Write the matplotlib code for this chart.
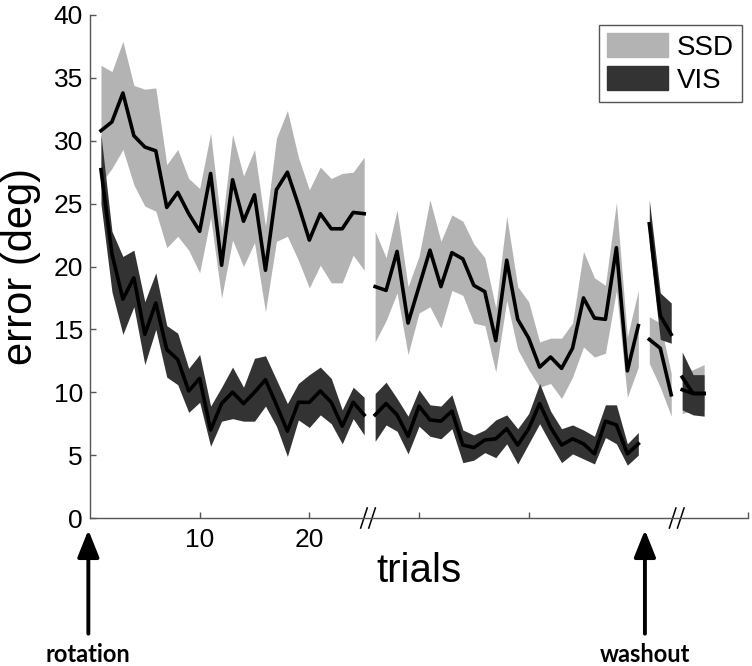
import numpy as np
import matplotlib
matplotlib.use('Agg')
import matplotlib.pyplot as plt
from matplotlib.patches import Patch

plt.rcParams['font.family'] = ['Liberation Sans', 'DejaVu Sans']

# trial blocks (first, last) - drawn as separate pieces
segments = [(1, 25), (26, 50), (51, 53), (54, 56)]

ssd_mean = [30.8, 31.5, 33.8, 30.4, 29.5, 29.2, 24.7, 25.9, 24.2, 22.8, 27.4, 20.1, 26.9,
            23.6, 25.7, 19.7, 26.1, 27.5, 24.9, 22.1, 24.2, 23.0, 23.0, 24.3, 24.2,
            18.4, 18.1, 21.2, 15.5, 18.4, 21.3, 18.4, 21.1, 20.6, 18.5, 18.0, 14.1, 20.5,
            15.8, 14.3, 12.0, 12.8, 11.9, 13.5, 17.5, 15.9, 15.8, 21.5, 11.7, 15.3,
            14.2, 13.5, 9.8,
            10.2, 9.9, 9.9]
ssd_up = [36.0, 35.5, 37.9, 34.4, 34.1, 34.2, 28.1, 29.3, 27.0, 26.2, 30.6, 23.0, 30.5,
          27.2, 29.3, 23.2, 30.2, 32.4, 28.7, 26.1, 27.9, 27.0, 27.4, 27.5, 28.7,
          22.8, 20.7, 24.5, 18.4, 20.8, 25.3, 22.0, 24.1, 23.6, 21.8, 20.7, 16.7, 24.0,
          18.4, 17.2, 14.0, 14.3, 14.3, 15.5, 21.2, 19.1, 18.5, 25.1, 14.4, 18.1,
          16.0, 15.5, 11.5,
          11.6, 11.8, 12.2]
ssd_low = [26.6, 27.8, 29.3, 26.5, 24.8, 24.4, 21.5, 22.4, 21.3, 19.5, 23.9, 17.5, 22.1,
           20.0, 21.9, 16.4, 22.0, 22.4, 20.5, 18.3, 20.1, 18.7, 18.7, 20.9, 19.7,
           14.0, 15.7, 17.9, 13.0, 16.3, 16.8, 15.1, 18.1, 17.7, 15.5, 15.3, 11.6, 17.3,
           13.4, 11.8, 10.4, 10.7, 9.5, 11.2, 13.6, 12.8, 13.1, 18.1, 9.6, 12.0,
           12.3, 10.4, 8.1,
           8.3, 8.6, 8.6]

vis_mean = [27.7, 21.0, 17.4, 19.1, 14.6, 17.1, 13.4, 12.6, 10.1, 11.1, 7.0, 9.1, 10.0,
            9.1, 10.0, 11.0, 9.0, 6.9, 9.2, 9.2, 10.1, 9.2, 7.3, 9.2, 8.2,
            8.2, 9.1, 8.2, 6.5, 8.9, 7.8, 7.7, 8.5, 5.8, 5.6, 6.2, 6.3, 7.1,
            5.8, 7.1, 9.1, 7.2, 5.8, 6.3, 5.9, 5.1, 7.7, 7.4, 5.1, 5.9,
            23.4, 16.1, 14.6,
            11.2, 9.9, 9.9]
vis_up = [30.5, 22.8, 20.8, 21.3, 17.2, 19.5, 15.3, 14.7, 11.9, 13.0, 8.9, 10.4, 12.0,
          10.4, 12.7, 12.9, 11.0, 9.1, 10.7, 11.4, 12.0, 11.1, 8.6, 10.4, 9.6,
          9.9, 10.8, 9.5, 8.1, 10.2, 9.0, 8.9, 9.8, 7.0, 6.6, 7.0, 7.8, 8.2,
          7.1, 8.3, 10.7, 8.5, 7.1, 7.4, 7.0, 6.5, 9.0, 9.0, 5.9, 6.8,
          25.3, 17.9, 17.1,
          13.2, 11.4, 11.4]
vis_low = [25.0, 18.0, 14.6, 16.8, 12.2, 15.0, 11.2, 10.6, 8.4, 9.2, 5.7, 7.7, 7.9,
           7.7, 7.7, 8.9, 7.3, 4.9, 7.8, 7.2, 8.2, 7.5, 5.9, 7.9, 6.6,
           6.1, 7.4, 6.9, 5.1, 7.3, 6.5, 6.3, 7.1, 4.4, 4.6, 5.2, 4.8, 5.9,
           4.3, 5.9, 7.5, 5.9, 4.4, 5.1, 4.7, 4.3, 6.4, 5.9, 4.2, 5.0,
           21.8, 14.2, 13.9,
           8.6, 8.2, 8.1]

xticks = [10, 20, 30, 40, 60]
xticklabels = ['10', '20', '', '', '']
yticks = [0, 5, 10, 15, 20, 25, 30, 35, 40]
breaks = [25.35, 53.5]
events = [(-0.15, 'rotation'), (50.6, 'washout')]

ssd_col = '#b3b3b3'
vis_col = '#333333'
axis_col = '#555555'

fig = plt.figure(figsize=(7.52, 6.66), dpi=100)
ax = fig.add_axes([90/752, 148/666, 658/752, 503/666])

for a, b in segments:
    t = np.arange(a, b + 1)
    ax.fill_between(t, ssd_low[a-1:b], ssd_up[a-1:b], color=ssd_col, lw=0)
for a, b in segments:
    t = np.arange(a, b + 1)
    ax.fill_between(t, vis_low[a-1:b], vis_up[a-1:b], color=vis_col, lw=0)
for a, b in segments:
    t = np.arange(a, b + 1)
    ax.plot(t, ssd_mean[a-1:b], color='black', lw=2.6)
    ax.plot(t, vis_mean[a-1:b], color='black', lw=2.6)

ax.set_xlim(0, 60)
ax.set_ylim(0, 40)
ax.set_xticks(xticks)
ax.set_xticklabels(xticklabels)
ax.set_yticks(yticks)
ax.tick_params(direction='in', length=4, width=1, color=axis_col, labelsize=19)
ax.tick_params(axis='x', pad=7)
ax.tick_params(axis='y', pad=5)
for s in ['top', 'right']:
    ax.spines[s].set_visible(False)
for s in ['left', 'bottom']:
    ax.spines[s].set_color(axis_col)
    ax.spines[s].set_linewidth(1.0)

ax.set_xlabel('trials', fontsize=29)
ax.xaxis.set_label_coords(0.5, -0.068)
ax.set_ylabel('error (deg)', fontsize=30)
ax.yaxis.set_label_coords(-0.075, 0.5)

# axis break marks
for bx in breaks:
    for dx in [-0.37, 0.37]:
        ax.plot([bx + dx - 0.3, bx + dx + 0.3], [-0.8, 0.8], color='black', lw=1.1, clip_on=False)

# event arrows
for x, name in events:
    ax.annotate('', xy=(x, -0.95), xytext=(x, -9.2), annotation_clip=False,
                arrowprops=dict(arrowstyle='-|>,head_length=0.75,head_width=0.3', lw=2.8,
                                color='black', mutation_scale=22, shrinkA=0, shrinkB=0))
    ax.text(x, -11.45, name, ha='center', va='baseline', fontsize=17,
            fontweight='bold', family='Lato', clip_on=False)

handles = [Patch(color=ssd_col, label='SSD'), Patch(color=vis_col, label='VIS')]
leg = ax.legend(handles=handles, loc='upper right', bbox_to_anchor=(742/752, 1 - 25/666),
                bbox_transform=fig.transFigure, borderaxespad=0, fontsize=20,
                handlelength=2.2, handleheight=0.95, handletextpad=0.3,
                labelspacing=0.2, borderpad=0.3, fancybox=False, framealpha=1)
leg.get_frame().set_edgecolor(axis_col)
leg.get_frame().set_linewidth(1.0)

fig.savefig('out.png', dpi=100)
